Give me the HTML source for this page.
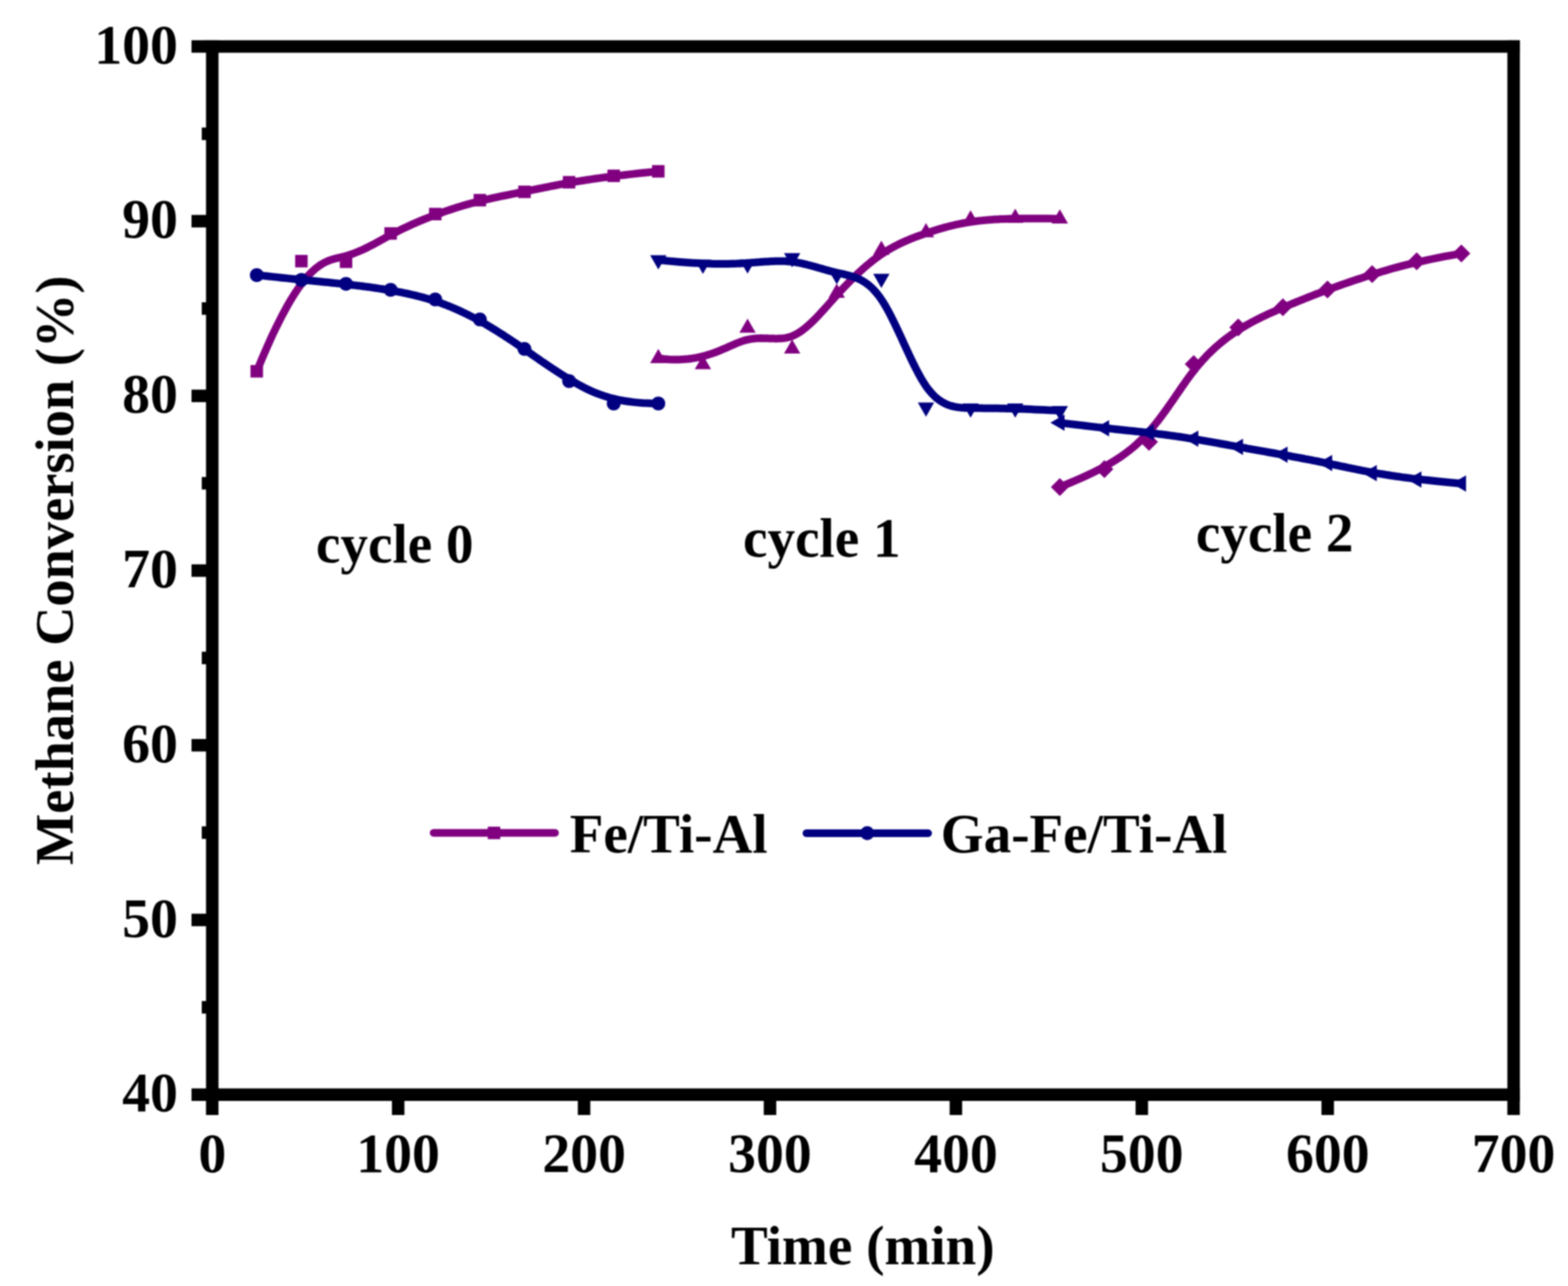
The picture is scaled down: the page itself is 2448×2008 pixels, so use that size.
<!DOCTYPE html><html><head><meta charset="utf-8"><title>Methane Conversion</title><style>html,body{margin:0;padding:0;background:#fff;overflow:hidden;width:2448px;height:2008px;}svg{display:block;filter:blur(0.9px);}text{font-family:"Liberation Serif","Times New Roman",serif;font-weight:bold;fill:#000;}</style></head><body>
<svg width="2448" height="2008" viewBox="0 0 2448 2008">
<rect width="2448" height="2008" fill="#fff"/>
<path d="M400.9,579.8 L409.4,559.2 L417.6,540.3 L425.4,523.0 L433.0,507.3 L440.2,493.1 L447.1,480.3 L453.7,468.8 L460.0,458.6 L466.1,449.5 L471.9,441.6 L477.5,434.6 L482.9,428.6 L488.0,423.5 L493.0,419.1 L497.8,415.4 L502.4,412.4 L506.8,409.9 L511.1,407.9 L515.2,406.2 L519.3,404.9 L523.2,403.8 L527.0,402.9 L530.7,402.0 L534.4,401.1 L538.0,400.2 L541.5,399.2 L545.0,398.1 L548.4,397.0 L551.8,395.8 L555.2,394.5 L558.5,393.2 L561.7,391.8 L564.9,390.4 L568.1,389.0 L571.2,387.5 L574.3,386.0 L577.4,384.4 L580.4,382.8 L583.4,381.3 L586.4,379.7 L589.4,378.0 L592.3,376.4 L595.3,374.8 L598.2,373.2 L601.1,371.6 L604.0,370.0 L606.9,368.4 L609.9,366.8 L612.8,365.3 L615.7,363.8 L618.6,362.3 L621.5,360.8 L624.4,359.4 L627.3,357.9 L630.2,356.5 L633.1,355.2 L636.0,353.8 L638.9,352.5 L641.8,351.1 L644.7,349.8 L647.6,348.6 L650.5,347.3 L653.4,346.1 L656.3,344.8 L659.2,343.6 L662.1,342.4 L665.0,341.3 L667.9,340.1 L670.8,339.0 L673.7,337.9 L676.6,336.8 L679.5,335.7 L682.4,334.6 L685.3,333.5 L688.2,332.5 L691.1,331.5 L694.0,330.4 L696.9,329.4 L699.8,328.4 L702.7,327.5 L705.6,326.5 L708.5,325.6 L711.4,324.6 L714.3,323.7 L717.2,322.8 L720.1,322.0 L723.0,321.1 L725.9,320.2 L728.8,319.4 L731.7,318.6 L734.6,317.8 L737.5,317.0 L740.4,316.2 L743.3,315.4 L746.2,314.7 L749.2,314.0 L752.1,313.2 L755.0,312.5 L757.9,311.9 L760.8,311.2 L763.7,310.5 L766.6,309.9 L769.5,309.2 L772.4,308.6 L775.3,308.0 L778.2,307.3 L781.1,306.7 L784.0,306.1 L786.9,305.5 L789.8,305.0 L792.7,304.4 L795.6,303.8 L798.5,303.2 L801.4,302.6 L804.3,302.1 L807.2,301.5 L810.1,300.9 L813.0,300.3 L815.9,299.7 L818.8,299.2 L821.7,298.6 L824.6,298.0 L827.5,297.4 L830.4,296.8 L833.4,296.2 L836.3,295.6 L839.3,295.0 L842.2,294.4 L845.2,293.8 L848.2,293.2 L851.3,292.6 L854.4,292.0 L857.4,291.3 L860.6,290.7 L863.7,290.1 L867.0,289.5 L870.2,288.9 L873.5,288.2 L876.8,287.6 L880.2,287.0 L883.6,286.4 L887.1,285.7 L890.7,285.1 L894.3,284.5 L897.9,283.9 L901.6,283.2 L905.5,282.6 L909.4,282.0 L913.4,281.4 L917.6,280.7 L921.8,280.1 L926.3,279.4 L930.9,278.8 L935.7,278.1 L940.6,277.4 L945.8,276.8 L951.1,276.1 L956.7,275.4 L962.6,274.6 L968.6,273.9 L975.0,273.2 L981.6,272.4 L988.5,271.6 L995.7,270.8 L1003.2,270.0 L1011.0,269.2 L1019.2,268.4 L1027.8,267.5" fill="none" stroke="#800080" stroke-width="12" stroke-linejoin="round" stroke-linecap="round"/>
<path d="M400.9,429.5 L409.4,430.4 L417.6,431.3 L425.4,432.1 L433.0,432.9 L440.2,433.7 L447.1,434.4 L453.7,435.1 L460.0,435.7 L466.1,436.3 L471.9,436.9 L477.5,437.5 L482.9,438.0 L488.0,438.5 L493.0,439.0 L497.8,439.5 L502.4,440.0 L506.8,440.4 L511.1,440.8 L515.2,441.2 L519.3,441.7 L523.2,442.1 L527.0,442.5 L530.7,442.8 L534.4,443.2 L538.0,443.6 L541.5,444.0 L545.0,444.4 L548.4,444.8 L551.8,445.2 L555.2,445.6 L558.5,446.0 L561.7,446.4 L564.9,446.8 L568.1,447.2 L571.2,447.6 L574.3,448.0 L577.4,448.4 L580.4,448.8 L583.4,449.3 L586.4,449.7 L589.4,450.1 L592.3,450.6 L595.3,451.0 L598.2,451.5 L601.1,452.0 L604.0,452.5 L606.9,453.0 L609.9,453.5 L612.8,454.0 L615.7,454.5 L618.6,455.0 L621.5,455.6 L624.4,456.1 L627.3,456.7 L630.2,457.3 L633.1,457.9 L636.0,458.5 L638.9,459.1 L641.8,459.8 L644.7,460.5 L647.6,461.1 L650.5,461.9 L653.4,462.6 L656.3,463.3 L659.2,464.1 L662.1,464.9 L665.0,465.7 L667.9,466.6 L670.8,467.4 L673.7,468.3 L676.6,469.3 L679.5,470.2 L682.4,471.2 L685.3,472.2 L688.2,473.2 L691.1,474.3 L694.0,475.4 L696.9,476.5 L699.8,477.6 L702.7,478.8 L705.6,480.0 L708.5,481.2 L711.4,482.5 L714.3,483.8 L717.2,485.1 L720.1,486.4 L723.0,487.8 L725.9,489.2 L728.8,490.6 L731.7,492.0 L734.6,493.5 L737.5,495.0 L740.4,496.5 L743.3,498.0 L746.2,499.6 L749.2,501.2 L752.1,502.8 L755.0,504.5 L757.9,506.1 L760.8,507.8 L763.7,509.6 L766.6,511.3 L769.5,513.1 L772.4,514.8 L775.3,516.6 L778.2,518.5 L781.1,520.3 L784.0,522.1 L786.9,524.0 L789.8,525.9 L792.7,527.8 L795.6,529.7 L798.5,531.6 L801.4,533.6 L804.3,535.5 L807.2,537.5 L810.1,539.5 L813.0,541.5 L815.9,543.5 L818.8,545.5 L821.7,547.5 L824.6,549.5 L827.5,551.5 L830.4,553.5 L833.4,555.6 L836.3,557.6 L839.3,559.7 L842.2,561.7 L845.2,563.8 L848.2,565.9 L851.3,567.9 L854.4,570.0 L857.4,572.1 L860.6,574.2 L863.7,576.3 L867.0,578.4 L870.2,580.5 L873.5,582.6 L876.8,584.7 L880.2,586.8 L883.6,589.0 L887.1,591.1 L890.7,593.2 L894.3,595.4 L897.9,597.5 L901.6,599.7 L905.5,601.8 L909.4,603.9 L913.4,606.0 L917.6,608.0 L921.8,610.0 L926.3,612.0 L930.9,613.9 L935.7,615.7 L940.6,617.4 L945.8,619.1 L951.1,620.7 L956.7,622.2 L962.6,623.6 L968.6,624.8 L975.0,626.0 L981.6,627.0 L988.5,627.9 L995.7,628.6 L1003.2,629.2 L1011.0,629.6 L1019.2,629.9 L1027.8,630.0" fill="none" stroke="#000080" stroke-width="12" stroke-linejoin="round" stroke-linecap="round"/>
<path d="M1027.8,559.5 L1036.3,560.5 L1044.5,561.2 L1052.3,561.5 L1059.8,561.4 L1067.0,561.1 L1073.9,560.5 L1080.5,559.7 L1086.9,558.6 L1092.9,557.3 L1098.8,555.9 L1104.4,554.3 L1109.7,552.6 L1114.9,550.8 L1119.8,549.0 L1124.6,547.1 L1129.2,545.1 L1133.7,543.2 L1137.9,541.3 L1142.1,539.4 L1146.1,537.7 L1150.0,536.0 L1153.9,534.5 L1157.6,533.1 L1161.2,531.9 L1164.8,530.9 L1168.4,530.1 L1171.9,529.4 L1175.3,528.9 L1178.7,528.6 L1182.0,528.3 L1185.3,528.2 L1188.5,528.1 L1191.8,528.2 L1194.9,528.2 L1198.1,528.3 L1201.1,528.4 L1204.2,528.6 L1207.3,528.6 L1210.3,528.7 L1213.3,528.7 L1216.2,528.6 L1219.2,528.5 L1222.1,528.2 L1225.1,527.9 L1228.0,527.3 L1230.9,526.7 L1233.8,525.8 L1236.7,524.8 L1239.6,523.5 L1242.5,522.1 L1245.4,520.5 L1248.3,518.7 L1251.2,516.7 L1254.1,514.6 L1257.0,512.3 L1259.9,509.9 L1262.8,507.3 L1265.7,504.7 L1268.6,501.9 L1271.5,499.1 L1274.4,496.1 L1277.3,493.1 L1280.2,490.0 L1283.1,486.8 L1286.0,483.7 L1288.9,480.4 L1291.8,477.2 L1294.7,473.9 L1297.6,470.6 L1300.5,467.4 L1303.4,464.1 L1306.4,460.9 L1309.3,457.7 L1312.2,454.5 L1315.1,451.4 L1318.0,448.3 L1320.9,445.3 L1323.8,442.3 L1326.7,439.3 L1329.6,436.4 L1332.5,433.5 L1335.4,430.7 L1338.3,428.0 L1341.2,425.2 L1344.1,422.6 L1347.0,420.0 L1349.9,417.4 L1352.8,414.9 L1355.7,412.5 L1358.6,410.1 L1361.5,407.8 L1364.4,405.5 L1367.3,403.3 L1370.2,401.2 L1373.1,399.1 L1376.0,397.1 L1378.9,395.1 L1381.8,393.3 L1384.7,391.5 L1387.6,389.7 L1390.5,388.0 L1393.4,386.4 L1396.3,384.8 L1399.2,383.3 L1402.1,381.9 L1405.0,380.4 L1407.9,379.1 L1410.8,377.7 L1413.7,376.4 L1416.6,375.2 L1419.5,374.0 L1422.4,372.8 L1425.3,371.6 L1428.2,370.5 L1431.1,369.4 L1434.0,368.3 L1436.9,367.3 L1439.8,366.3 L1442.7,365.2 L1445.6,364.2 L1448.6,363.3 L1451.5,362.3 L1454.4,361.3 L1457.3,360.4 L1460.2,359.5 L1463.2,358.6 L1466.1,357.7 L1469.1,356.8 L1472.1,355.9 L1475.1,355.1 L1478.1,354.3 L1481.2,353.5 L1484.3,352.7 L1487.4,352.0 L1490.6,351.2 L1493.8,350.5 L1497.0,349.8 L1500.3,349.2 L1503.7,348.5 L1507.1,347.9 L1510.5,347.3 L1514.0,346.8 L1517.5,346.2 L1521.1,345.7 L1524.8,345.2 L1528.5,344.8 L1532.3,344.4 L1536.2,344.0 L1540.3,343.6 L1544.4,343.2 L1548.7,342.9 L1553.1,342.6 L1557.7,342.4 L1562.5,342.1 L1567.5,341.9 L1572.6,341.7 L1578.0,341.6 L1583.6,341.5 L1589.4,341.3 L1595.5,341.3 L1601.8,341.2 L1608.4,341.2 L1615.3,341.2 L1622.5,341.2 L1630.1,341.2 L1637.9,341.3 L1646.1,341.4 L1654.6,341.5" fill="none" stroke="#800080" stroke-width="12" stroke-linejoin="round" stroke-linecap="round"/>
<path d="M1027.8,406.0 L1036.3,406.8 L1044.5,407.6 L1052.3,408.3 L1059.8,408.9 L1067.0,409.5 L1073.9,410.0 L1080.5,410.4 L1086.9,410.8 L1092.9,411.1 L1098.8,411.4 L1104.4,411.6 L1109.7,411.8 L1114.9,411.9 L1119.8,412.0 L1124.6,412.0 L1129.2,412.0 L1133.7,412.0 L1137.9,411.9 L1142.1,411.8 L1146.1,411.7 L1150.0,411.6 L1153.9,411.4 L1157.6,411.2 L1161.2,411.0 L1164.8,410.8 L1168.4,410.5 L1171.9,410.3 L1175.3,410.0 L1178.7,409.8 L1182.0,409.5 L1185.3,409.3 L1188.5,409.0 L1191.8,408.8 L1194.9,408.6 L1198.1,408.4 L1201.1,408.2 L1204.2,408.0 L1207.3,407.9 L1210.3,407.8 L1213.3,407.7 L1216.2,407.7 L1219.2,407.7 L1222.1,407.7 L1225.1,407.8 L1228.0,408.0 L1230.9,408.2 L1233.8,408.4 L1236.7,408.8 L1239.6,409.1 L1242.5,409.6 L1245.4,410.1 L1248.3,410.6 L1251.2,411.2 L1254.1,411.9 L1257.0,412.5 L1259.9,413.2 L1262.8,414.0 L1265.7,414.7 L1268.6,415.5 L1271.5,416.3 L1274.4,417.1 L1277.3,418.0 L1280.2,418.8 L1283.1,419.6 L1286.0,420.5 L1288.9,421.3 L1291.8,422.1 L1294.7,422.9 L1297.6,423.7 L1300.5,424.4 L1303.4,425.1 L1306.4,425.8 L1309.3,426.5 L1312.2,427.1 L1315.1,427.7 L1318.0,428.4 L1320.9,429.1 L1323.8,429.8 L1326.7,430.5 L1329.6,431.4 L1332.5,432.3 L1335.4,433.3 L1338.3,434.5 L1341.2,435.8 L1344.1,437.2 L1347.0,438.8 L1349.9,440.6 L1352.8,442.6 L1355.7,444.8 L1358.6,447.3 L1361.5,449.9 L1364.4,452.9 L1367.3,456.1 L1370.2,459.6 L1373.1,463.4 L1376.0,467.6 L1378.9,472.0 L1381.8,476.8 L1384.7,481.9 L1387.6,487.2 L1390.5,492.7 L1393.4,498.5 L1396.3,504.4 L1399.2,510.4 L1402.1,516.6 L1405.0,522.8 L1407.9,529.1 L1410.8,535.4 L1413.7,541.7 L1416.6,548.0 L1419.5,554.2 L1422.4,560.4 L1425.3,566.4 L1428.2,572.2 L1431.1,577.9 L1434.0,583.4 L1436.9,588.7 L1439.8,593.7 L1442.7,598.4 L1445.6,602.8 L1448.6,606.8 L1451.5,610.5 L1454.4,613.9 L1457.3,617.0 L1460.2,619.8 L1463.2,622.3 L1466.1,624.6 L1469.1,626.6 L1472.1,628.4 L1475.1,630.0 L1478.1,631.4 L1481.2,632.6 L1484.3,633.6 L1487.4,634.4 L1490.6,635.1 L1493.8,635.7 L1497.0,636.1 L1500.3,636.5 L1503.7,636.8 L1507.1,637.0 L1510.5,637.1 L1514.0,637.2 L1517.5,637.2 L1521.1,637.2 L1524.8,637.3 L1528.5,637.3 L1532.3,637.3 L1536.2,637.4 L1540.3,637.4 L1544.4,637.5 L1548.7,637.5 L1553.1,637.6 L1557.7,637.6 L1562.5,637.7 L1567.5,637.8 L1572.6,637.9 L1578.0,638.1 L1583.6,638.2 L1589.4,638.4 L1595.5,638.6 L1601.8,638.8 L1608.4,639.1 L1615.3,639.4 L1622.5,639.7 L1630.1,640.0 L1637.9,640.4 L1646.1,640.8 L1654.6,641.3" fill="none" stroke="#000080" stroke-width="12" stroke-linejoin="round" stroke-linecap="round"/>
<path d="M1654.6,760.5 L1663.1,757.0 L1671.3,753.6 L1679.1,750.3 L1686.7,747.0 L1693.9,743.7 L1700.8,740.5 L1707.4,737.3 L1713.7,734.1 L1719.8,731.0 L1725.6,727.8 L1731.2,724.7 L1736.6,721.5 L1741.7,718.3 L1746.7,715.1 L1751.5,711.9 L1756.1,708.6 L1760.5,705.3 L1764.8,702.0 L1768.9,698.6 L1773.0,695.1 L1776.9,691.5 L1780.7,687.9 L1784.4,684.2 L1788.1,680.4 L1791.7,676.5 L1795.2,672.5 L1798.7,668.4 L1802.1,664.2 L1805.5,660.0 L1808.9,655.7 L1812.2,651.4 L1815.4,647.0 L1818.6,642.7 L1821.8,638.2 L1824.9,633.8 L1828.0,629.4 L1831.1,625.0 L1834.1,620.6 L1837.1,616.2 L1840.1,611.8 L1843.1,607.5 L1846.0,603.2 L1849.0,599.0 L1851.9,594.9 L1854.8,590.8 L1857.7,586.9 L1860.6,583.0 L1863.6,579.2 L1866.5,575.5 L1869.4,572.0 L1872.3,568.5 L1875.2,565.2 L1878.1,561.9 L1881.0,558.8 L1883.9,555.7 L1886.8,552.7 L1889.7,549.9 L1892.6,547.1 L1895.5,544.4 L1898.4,541.7 L1901.3,539.2 L1904.2,536.7 L1907.1,534.3 L1910.0,532.0 L1912.9,529.7 L1915.8,527.5 L1918.7,525.4 L1921.6,523.3 L1924.5,521.3 L1927.4,519.3 L1930.3,517.4 L1933.2,515.5 L1936.1,513.7 L1939.0,511.9 L1941.9,510.2 L1944.8,508.5 L1947.7,506.8 L1950.6,505.2 L1953.5,503.6 L1956.4,502.0 L1959.3,500.5 L1962.2,499.0 L1965.1,497.6 L1968.0,496.1 L1970.9,494.7 L1973.8,493.3 L1976.7,491.9 L1979.6,490.6 L1982.5,489.3 L1985.4,488.0 L1988.3,486.7 L1991.2,485.4 L1994.1,484.1 L1997.0,482.9 L1999.9,481.6 L2002.8,480.4 L2005.8,479.1 L2008.7,477.9 L2011.6,476.7 L2014.5,475.5 L2017.4,474.3 L2020.3,473.1 L2023.2,471.9 L2026.1,470.7 L2029.0,469.5 L2031.9,468.4 L2034.8,467.2 L2037.7,466.0 L2040.6,464.9 L2043.5,463.7 L2046.4,462.6 L2049.3,461.5 L2052.2,460.3 L2055.1,459.2 L2058.0,458.1 L2060.9,457.0 L2063.8,455.9 L2066.7,454.8 L2069.6,453.7 L2072.5,452.6 L2075.4,451.6 L2078.3,450.5 L2081.2,449.4 L2084.1,448.4 L2087.1,447.3 L2090.0,446.2 L2093.0,445.2 L2095.9,444.1 L2098.9,443.1 L2101.9,442.1 L2105.0,441.0 L2108.1,440.0 L2111.1,438.9 L2114.3,437.8 L2117.4,436.8 L2120.7,435.7 L2123.9,434.7 L2127.2,433.6 L2130.5,432.5 L2133.9,431.4 L2137.3,430.3 L2140.8,429.2 L2144.4,428.1 L2148.0,427.0 L2151.6,425.9 L2155.3,424.7 L2159.2,423.6 L2163.1,422.4 L2167.1,421.2 L2171.3,420.0 L2175.5,418.8 L2180.0,417.6 L2184.6,416.4 L2189.4,415.1 L2194.3,413.9 L2199.5,412.6 L2204.8,411.3 L2210.4,410.0 L2216.3,408.6 L2222.3,407.3 L2228.7,405.9 L2235.3,404.5 L2242.2,403.1 L2249.4,401.7 L2256.9,400.2 L2264.7,398.8 L2272.9,397.3 L2281.5,395.8" fill="none" stroke="#800080" stroke-width="12" stroke-linejoin="round" stroke-linecap="round"/>
<path d="M1654.6,660.0 L1663.1,661.1 L1671.3,662.1 L1679.1,663.0 L1686.7,663.9 L1693.9,664.8 L1700.8,665.6 L1707.4,666.4 L1713.7,667.1 L1719.8,667.8 L1725.6,668.4 L1731.2,669.0 L1736.6,669.6 L1741.7,670.2 L1746.7,670.7 L1751.5,671.2 L1756.1,671.7 L1760.5,672.2 L1764.8,672.6 L1768.9,673.0 L1773.0,673.5 L1776.9,673.9 L1780.7,674.3 L1784.4,674.7 L1788.1,675.1 L1791.7,675.5 L1795.2,675.9 L1798.7,676.3 L1802.1,676.7 L1805.5,677.1 L1808.9,677.6 L1812.2,678.0 L1815.4,678.4 L1818.6,678.8 L1821.8,679.2 L1824.9,679.6 L1828.0,680.1 L1831.1,680.5 L1834.1,680.9 L1837.1,681.4 L1840.1,681.8 L1843.1,682.2 L1846.0,682.7 L1849.0,683.1 L1851.9,683.6 L1854.8,684.1 L1857.7,684.5 L1860.6,685.0 L1863.6,685.5 L1866.5,685.9 L1869.4,686.4 L1872.3,686.9 L1875.2,687.4 L1878.1,687.9 L1881.0,688.4 L1883.9,688.9 L1886.8,689.4 L1889.7,689.9 L1892.6,690.4 L1895.5,690.9 L1898.4,691.4 L1901.3,691.9 L1904.2,692.5 L1907.1,693.0 L1910.0,693.5 L1912.9,694.0 L1915.8,694.5 L1918.7,695.1 L1921.6,695.6 L1924.5,696.1 L1927.4,696.6 L1930.3,697.1 L1933.2,697.7 L1936.1,698.2 L1939.0,698.7 L1941.9,699.2 L1944.8,699.7 L1947.7,700.3 L1950.6,700.8 L1953.5,701.3 L1956.4,701.8 L1959.3,702.3 L1962.2,702.8 L1965.1,703.4 L1968.0,703.9 L1970.9,704.4 L1973.8,704.9 L1976.7,705.4 L1979.6,706.0 L1982.5,706.5 L1985.4,707.0 L1988.3,707.5 L1991.2,708.0 L1994.1,708.6 L1997.0,709.1 L1999.9,709.6 L2002.8,710.1 L2005.8,710.7 L2008.7,711.2 L2011.6,711.7 L2014.5,712.2 L2017.4,712.8 L2020.3,713.3 L2023.2,713.8 L2026.1,714.4 L2029.0,714.9 L2031.9,715.5 L2034.8,716.0 L2037.7,716.6 L2040.6,717.1 L2043.5,717.7 L2046.4,718.2 L2049.3,718.8 L2052.2,719.4 L2055.1,719.9 L2058.0,720.5 L2060.9,721.1 L2063.8,721.7 L2066.7,722.3 L2069.6,722.9 L2072.5,723.5 L2075.4,724.1 L2078.3,724.7 L2081.2,725.3 L2084.1,725.9 L2087.1,726.5 L2090.0,727.1 L2093.0,727.8 L2095.9,728.4 L2098.9,729.0 L2101.9,729.6 L2105.0,730.3 L2108.1,730.9 L2111.1,731.6 L2114.3,732.2 L2117.4,732.8 L2120.7,733.5 L2123.9,734.1 L2127.2,734.8 L2130.5,735.4 L2133.9,736.1 L2137.3,736.7 L2140.8,737.3 L2144.4,738.0 L2148.0,738.6 L2151.6,739.3 L2155.3,739.9 L2159.2,740.5 L2163.1,741.2 L2167.1,741.8 L2171.3,742.5 L2175.5,743.1 L2180.0,743.8 L2184.6,744.4 L2189.4,745.1 L2194.3,745.7 L2199.5,746.4 L2204.8,747.1 L2210.4,747.7 L2216.3,748.4 L2222.3,749.1 L2228.7,749.8 L2235.3,750.5 L2242.2,751.2 L2249.4,752.0 L2256.9,752.7 L2264.7,753.5 L2272.9,754.2 L2281.5,755.0" fill="none" stroke="#000080" stroke-width="12" stroke-linejoin="round" stroke-linecap="round"/>
<rect x="391.1" y="570.0" width="19.5" height="19.5" fill="#800080"/>
<rect x="460.8" y="398.0" width="19.5" height="19.5" fill="#800080"/>
<rect x="530.5" y="399.0" width="19.5" height="19.5" fill="#800080"/>
<rect x="600.1" y="354.8" width="19.5" height="19.5" fill="#800080"/>
<rect x="669.8" y="324.5" width="19.5" height="19.5" fill="#800080"/>
<rect x="739.4" y="302.8" width="19.5" height="19.5" fill="#800080"/>
<rect x="809.1" y="289.8" width="19.5" height="19.5" fill="#800080"/>
<rect x="878.7" y="274.8" width="19.5" height="19.5" fill="#800080"/>
<rect x="948.4" y="264.8" width="19.5" height="19.5" fill="#800080"/>
<rect x="1018.0" y="257.8" width="19.5" height="19.5" fill="#800080"/>
<circle cx="400.9" cy="429.5" r="10.8" fill="#000080"/>
<circle cx="470.6" cy="437.0" r="10.8" fill="#000080"/>
<circle cx="540.2" cy="443.2" r="10.8" fill="#000080"/>
<circle cx="609.9" cy="452.5" r="10.8" fill="#000080"/>
<circle cx="679.5" cy="467.5" r="10.8" fill="#000080"/>
<circle cx="749.2" cy="498.8" r="10.8" fill="#000080"/>
<circle cx="818.8" cy="544.8" r="10.8" fill="#000080"/>
<circle cx="888.5" cy="595.0" r="10.8" fill="#000080"/>
<circle cx="958.1" cy="630.0" r="10.8" fill="#000080"/>
<circle cx="1027.8" cy="630.0" r="10.8" fill="#000080"/>
<polygon points="1027.8,544.8 1040.5,566.9 1015.0,566.9" fill="#800080"/>
<polygon points="1097.4,554.5 1110.2,576.6 1084.7,576.6" fill="#800080"/>
<polygon points="1167.1,497.5 1179.8,519.6 1154.3,519.6" fill="#800080"/>
<polygon points="1236.7,530.0 1249.5,552.1 1224.0,552.1" fill="#800080"/>
<polygon points="1306.4,442.8 1319.1,464.9 1293.6,464.9" fill="#800080"/>
<polygon points="1376.0,375.8 1388.8,397.9 1363.2,397.9" fill="#800080"/>
<polygon points="1445.7,348.3 1458.4,370.4 1432.9,370.4" fill="#800080"/>
<polygon points="1515.3,328.3 1528.1,350.4 1502.6,350.4" fill="#800080"/>
<polygon points="1585.0,325.8 1597.7,347.9 1572.2,347.9" fill="#800080"/>
<polygon points="1654.6,326.8 1667.4,348.9 1641.9,348.9" fill="#800080"/>
<polygon points="1027.8,420.7 1040.5,398.6 1015.0,398.6" fill="#000080"/>
<polygon points="1097.4,427.7 1110.2,405.6 1084.7,405.6" fill="#000080"/>
<polygon points="1167.1,427.2 1179.8,405.1 1154.3,405.1" fill="#000080"/>
<polygon points="1236.7,417.4 1249.5,395.3 1224.0,395.3" fill="#000080"/>
<polygon points="1306.4,444.0 1319.1,421.9 1293.6,421.9" fill="#000080"/>
<polygon points="1376.0,449.7 1388.8,427.6 1363.2,427.6" fill="#000080"/>
<polygon points="1445.7,650.7 1458.4,628.6 1432.9,628.6" fill="#000080"/>
<polygon points="1515.3,652.2 1528.1,630.1 1502.6,630.1" fill="#000080"/>
<polygon points="1585.0,652.2 1597.7,630.1 1572.2,630.1" fill="#000080"/>
<polygon points="1654.6,656.0 1667.4,633.9 1641.9,633.9" fill="#000080"/>
<polygon points="1654.6,746.5 1668.6,760.5 1654.6,774.5 1640.6,760.5" fill="#800080"/>
<polygon points="1724.2,718.5 1738.2,732.5 1724.2,746.5 1710.2,732.5" fill="#800080"/>
<polygon points="1793.9,676.0 1807.9,690.0 1793.9,704.0 1779.9,690.0" fill="#800080"/>
<polygon points="1863.6,554.5 1877.6,568.5 1863.6,582.5 1849.6,568.5" fill="#800080"/>
<polygon points="1933.2,497.2 1947.2,511.2 1933.2,525.2 1919.2,511.2" fill="#800080"/>
<polygon points="2002.9,465.8 2016.9,479.8 2002.9,493.8 1988.9,479.8" fill="#800080"/>
<polygon points="2072.5,438.0 2086.5,452.0 2072.5,466.0 2058.5,452.0" fill="#800080"/>
<polygon points="2142.2,414.0 2156.2,428.0 2142.2,442.0 2128.2,428.0" fill="#800080"/>
<polygon points="2211.8,394.0 2225.8,408.0 2211.8,422.0 2197.8,408.0" fill="#800080"/>
<polygon points="2281.5,381.8 2295.5,395.8 2281.5,409.8 2267.5,395.8" fill="#800080"/>
<polygon points="1639.9,660.0 1662.0,647.2 1662.0,672.8" fill="#000080"/>
<polygon points="1709.5,668.8 1731.6,656.0 1731.6,681.5" fill="#000080"/>
<polygon points="1779.2,675.0 1801.3,662.2 1801.3,687.8" fill="#000080"/>
<polygon points="1848.8,685.0 1870.9,672.2 1870.9,697.8" fill="#000080"/>
<polygon points="1918.5,697.8 1940.6,685.0 1940.6,710.5" fill="#000080"/>
<polygon points="1988.1,710.0 2010.2,697.2 2010.2,722.8" fill="#000080"/>
<polygon points="2057.8,723.0 2079.9,710.2 2079.9,735.8" fill="#000080"/>
<polygon points="2127.4,738.8 2149.5,726.0 2149.5,751.5" fill="#000080"/>
<polygon points="2197.1,748.8 2219.2,736.0 2219.2,761.5" fill="#000080"/>
<polygon points="2266.7,755.0 2288.8,742.2 2288.8,767.8" fill="#000080"/>
<rect x="321.65" y="62.849999999999994" width="2051.2" height="19.5" fill="#000"/>
<rect x="321.65" y="1699.5" width="2051.2" height="19.5" fill="#000"/>
<rect x="321.65" y="62.849999999999994" width="19.5" height="1656.15" fill="#000"/>
<rect x="2353.35" y="62.849999999999994" width="19.5" height="1656.15" fill="#000"/>
<rect x="299" y="1699.5" width="23.649999999999977" height="19.5" fill="#000"/>
<text x="277.8" y="1735.2" font-size="87" text-anchor="end">40</text>
<rect x="299" y="1426.7" width="23.649999999999977" height="19.5" fill="#000"/>
<text x="277.8" y="1462.5" font-size="87" text-anchor="end">50</text>
<rect x="299" y="1153.9" width="23.649999999999977" height="19.5" fill="#000"/>
<text x="277.8" y="1189.7" font-size="87" text-anchor="end">60</text>
<rect x="299" y="881.2" width="23.649999999999977" height="19.5" fill="#000"/>
<text x="277.8" y="916.9" font-size="87" text-anchor="end">70</text>
<rect x="299" y="608.4" width="23.649999999999977" height="19.5" fill="#000"/>
<text x="277.8" y="644.1" font-size="87" text-anchor="end">80</text>
<rect x="299" y="335.6" width="23.649999999999977" height="19.5" fill="#000"/>
<text x="277.8" y="371.4" font-size="87" text-anchor="end">90</text>
<rect x="299" y="62.8" width="23.649999999999977" height="19.5" fill="#000"/>
<text x="277.8" y="98.6" font-size="87" text-anchor="end">100</text>
<rect x="315" y="1563.1" width="7.649999999999977" height="19.5" fill="#000"/>
<rect x="315" y="1290.3" width="7.649999999999977" height="19.5" fill="#000"/>
<rect x="315" y="1017.6" width="7.649999999999977" height="19.5" fill="#000"/>
<rect x="315" y="744.8" width="7.649999999999977" height="19.5" fill="#000"/>
<rect x="315" y="472.0" width="7.649999999999977" height="19.5" fill="#000"/>
<rect x="315" y="199.2" width="7.649999999999977" height="19.5" fill="#000"/>
<rect x="321.6" y="1709.25" width="19.5" height="31.75" fill="#000"/>
<text x="331.4" y="1830" font-size="87" text-anchor="middle">0</text>
<rect x="611.9" y="1709.25" width="19.5" height="31.75" fill="#000"/>
<text x="621.6" y="1830" font-size="87" text-anchor="middle">100</text>
<rect x="902.1" y="1709.25" width="19.5" height="31.75" fill="#000"/>
<text x="911.9" y="1830" font-size="87" text-anchor="middle">200</text>
<rect x="1192.4" y="1709.25" width="19.5" height="31.75" fill="#000"/>
<text x="1202.1" y="1830" font-size="87" text-anchor="middle">300</text>
<rect x="1482.6" y="1709.25" width="19.5" height="31.75" fill="#000"/>
<text x="1492.4" y="1830" font-size="87" text-anchor="middle">400</text>
<rect x="1772.9" y="1709.25" width="19.5" height="31.75" fill="#000"/>
<text x="1782.6" y="1830" font-size="87" text-anchor="middle">500</text>
<rect x="2063.1" y="1709.25" width="19.5" height="31.75" fill="#000"/>
<text x="2072.9" y="1830" font-size="87" text-anchor="middle">600</text>
<rect x="2353.3" y="1709.25" width="19.5" height="31.75" fill="#000"/>
<text x="2363.1" y="1830" font-size="87" text-anchor="middle">700</text>
<text x="493.3" y="877.5" font-size="86">cycle 0</text>
<text x="1160" y="868.75" font-size="86">cycle 1</text>
<text x="1867" y="861" font-size="86">cycle 2</text>
<line x1="677" y1="1300.6" x2="866.5" y2="1300.6" stroke="#800080" stroke-width="12" stroke-linecap="round"/>
<rect x="761.5" y="1290.8" width="19.5" height="19.5" fill="#800080"/>
<text x="889.5" y="1331" font-size="86">Fe/Ti-Al</text>
<line x1="1259" y1="1300.9" x2="1449" y2="1300.9" stroke="#000080" stroke-width="12" stroke-linecap="round"/>
<circle cx="1354.0" cy="1300.9" r="10.8" fill="#000080"/>
<text x="1468.8" y="1330.6" font-size="86">Ga-Fe/Ti-Al</text>
<text x="1347" y="1973.7" font-size="86" text-anchor="middle">Time (min)</text>
<text transform="translate(113.5,890.5) rotate(-90)" x="0" y="0" font-size="85" text-anchor="middle">Methane Conversion (%)</text>
</svg></body></html>
